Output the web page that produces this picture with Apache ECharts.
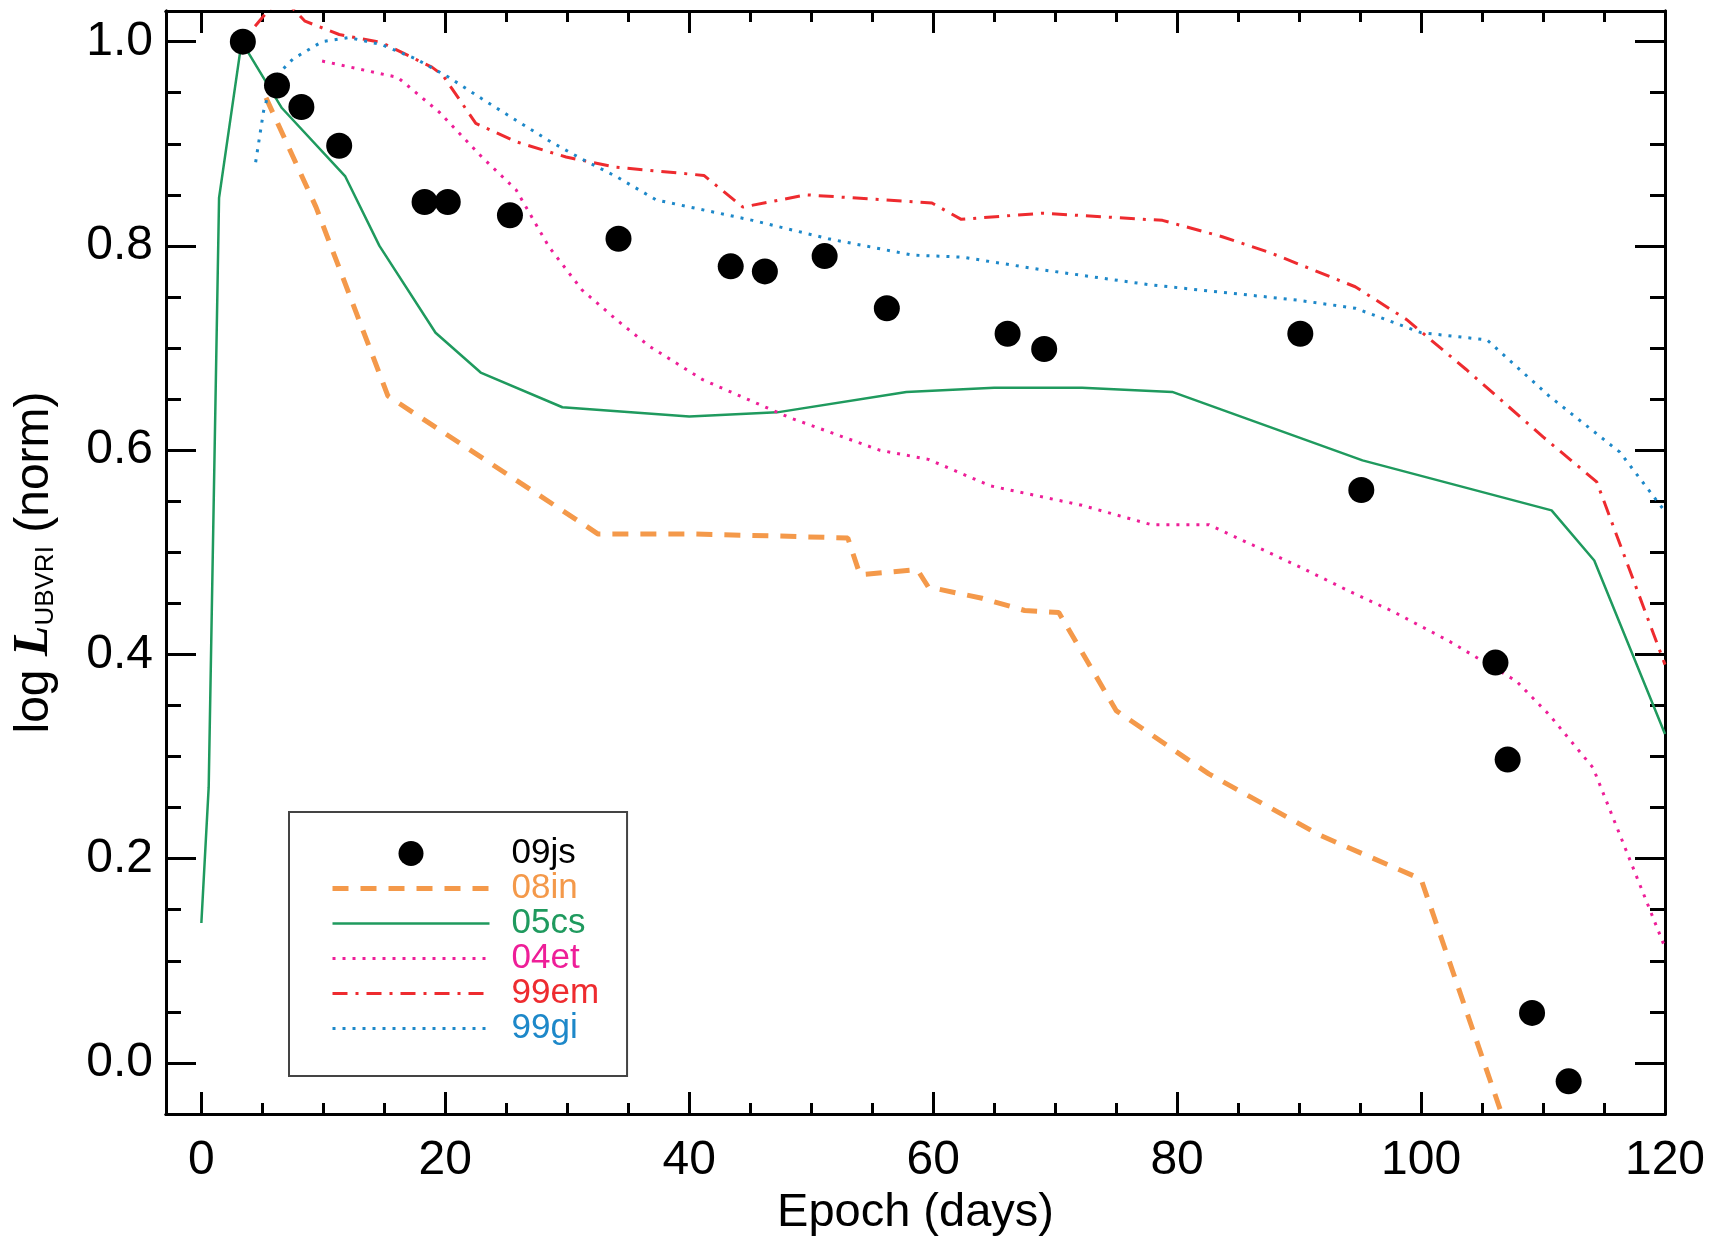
<!DOCTYPE html>
<html>
<head>
<meta charset="utf-8">
<script src="https://cdn.jsdelivr.net/npm/echarts@6/dist/echarts.min.js"></script>
<style>
  html, body { margin: 0; padding: 0; background: #ffffff; }
  #chart { width: 1725px; height: 1242px; }
</style>
</head>
<body>
<div id="chart"></div>
<script>
// SN 2009js bolometric (UBVRI) light curve and comparison supernovae
const days09js = [3.4, 6.2, 8.2, 11.3, 18.3, 20.2, 25.3, 34.2, 43.4, 46.2, 51.1, 56.2, 66.1, 69.1, 90.1, 95.1, 106.1, 107.1, 109.1, 112.1];
const logL09js = [1.000, 0.957, 0.936, 0.898, 0.843, 0.843, 0.830, 0.807, 0.780, 0.775, 0.790, 0.739, 0.714, 0.699, 0.714, 0.561, 0.392, 0.297, 0.049, -0.018];

const days08in = [5.3, 9.4, 15.3, 31.5, 32.5, 40.0, 47.0, 53.0, 54.0, 58.7, 59.6, 64.0, 67.5, 70.3, 75.0, 82.6, 91.7, 100.0, 106.9];
const logL08in = [0.945, 0.838, 0.653, 0.526, 0.518, 0.518, 0.516, 0.514, 0.478, 0.483, 0.466, 0.455, 0.443, 0.441, 0.345, 0.283, 0.223, 0.180, -0.060];

const days05cs = [0.0, 0.6, 1.45, 3.3, 6.6, 11.8, 14.6, 19.2, 22.9, 29.6, 40.0, 47.2, 57.8, 65.0, 72.2, 79.6, 95.2, 110.7, 114.2, 120.0];
const logL05cs = [0.137, 0.270, 0.847, 1.000, 0.935, 0.868, 0.800, 0.715, 0.676, 0.642, 0.633, 0.637, 0.657, 0.661, 0.661, 0.657, 0.590, 0.541, 0.492, 0.322];

const days04et = [9.9, 16.1, 19.5, 23.0, 25.8, 28.5, 31.2, 34.0, 36.7, 41.1, 48.2, 55.6, 59.6, 64.7, 72.2, 77.9, 82.6, 90.0, 94.1, 97.7, 102.3, 107.8, 110.5, 114.1, 120.0];
const logL04et = [0.981, 0.965, 0.931, 0.887, 0.855, 0.799, 0.757, 0.728, 0.702, 0.669, 0.632, 0.600, 0.591, 0.565, 0.546, 0.527, 0.527, 0.486, 0.462, 0.442, 0.413, 0.374, 0.341, 0.289, 0.113];

const days99em = [4.4, 6.5, 8.5, 11.3, 14.8, 18.9, 19.8, 22.5, 25.8, 29.9, 34.0, 41.2, 44.4, 49.6, 59.9, 62.3, 68.9, 78.8, 83.7, 87.7, 94.6, 98.8, 103.7, 110.0, 114.4, 120.0];
const logL99em = [1.015, 1.045, 1.020, 1.007, 0.999, 0.975, 0.967, 0.920, 0.902, 0.887, 0.877, 0.869, 0.838, 0.850, 0.842, 0.826, 0.832, 0.825, 0.809, 0.793, 0.760, 0.728, 0.679, 0.613, 0.569, 0.390];

const days99gi = [4.45, 5.1, 5.8, 7.5, 9.9, 12.1, 14.8, 17.6, 20.3, 23.0, 25.8, 28.5, 31.2, 34.0, 37.3, 45.2, 51.4, 58.3, 62.4, 68.7, 77.7, 89.8, 94.6, 100.0, 105.4, 110.5, 116.3, 120.0];
const logL99gi = [0.882, 0.932, 0.962, 0.983, 1.000, 1.004, 0.997, 0.983, 0.965, 0.944, 0.923, 0.903, 0.885, 0.868, 0.845, 0.825, 0.807, 0.791, 0.789, 0.777, 0.762, 0.747, 0.739, 0.715, 0.708, 0.653, 0.598, 0.540];

// Axis ticks
const xMajorTicks = [0, 20, 40, 60, 80, 100, 120];
const xMinorTicks = [5, 10, 15, 25, 30, 35, 45, 50, 55, 65, 70, 75, 85, 90, 95, 105, 110, 115];
const yMajorTicks = [0.0, 0.2, 0.4, 0.6, 0.8, 1.0];
const yMinorTicks = [0.05, 0.10, 0.15, 0.25, 0.30, 0.35, 0.45, 0.50, 0.55, 0.65, 0.70, 0.75, 0.85, 0.90, 0.95];

const seriesNames = ['09js', '08in', '05cs', '04et', '99em', '99gi'];
const seriesColors = ['#000000', '#F4994A', '#1F9A5E', '#EE1E98', '#EE2B2F', '#1D88C9'];
const seriesWidths = [0, 5, 2.5, 3, 3, 3];
const seriesDashes = [null, [16, 12], 'solid', [3, 7], [15, 8, 3, 8], [3, 7]];

const X_MIN = -2.9, X_MAX = 120;
const Y_MIN = -0.05, Y_MAX = 1.03;
const FONT = "'Liberation Sans', Arial, Helvetica, sans-serif";

const zip = (xs, ys) => xs.map((x, i) => [x, ys[i]]);

function xAxisDef(position, ticks, tickLen, withLabels) {
  return {
    type: 'value', position, min: X_MIN, max: X_MAX,
    axisLine: { show: true, onZero: false, lineStyle: { color: '#000', width: 3 } },
    axisTick: { show: true, inside: true, length: tickLen, customValues: ticks, lineStyle: { color: '#000', width: 3 } },
    axisLabel: withLabels
      ? { show: true, customValues: ticks, fontSize: 48, fontFamily: FONT, color: '#000', margin: 23 }
      : { show: false },
    splitLine: { show: false }
  };
}

function yAxisDef(position, ticks, tickLen, withLabels) {
  return {
    type: 'value', position, min: Y_MIN, max: Y_MAX,
    axisLine: { show: true, onZero: false, lineStyle: { color: '#000', width: 3 } },
    axisTick: { show: true, inside: true, length: tickLen, customValues: ticks, lineStyle: { color: '#000', width: 3 } },
    axisLabel: withLabels
      ? { show: true, customValues: ticks, fontSize: 48, fontFamily: FONT, color: '#000', margin: 13,
          formatter: v => v.toFixed(1) }
      : { show: false },
    splitLine: { show: false }
  };
}

const xAxes = [
  xAxisDef('bottom', xMajorTicks, 22, true),
  xAxisDef('bottom', xMinorTicks, 11, false),
  xAxisDef('top', xMajorTicks, 22, false),
  xAxisDef('top', xMinorTicks, 11, false)
];
Object.assign(xAxes[0], {
  name: 'Epoch (days)', nameLocation: 'middle', nameGap: 76,
  nameTextStyle: { fontSize: 47, fontFamily: FONT, color: '#000' }
});

const yAxes = [
  yAxisDef('left', yMajorTicks, 30, true),
  yAxisDef('left', yMinorTicks, 15, false),
  yAxisDef('right', yMajorTicks, 30, false),
  yAxisDef('right', yMinorTicks, 15, false)
];
Object.assign(yAxes[0], {
  name: '{n|log }{L|L}{s|UBVRI}{n| (norm)}',
  nameLocation: 'middle', nameGap: 107, nameRotate: 90,
  nameTextStyle: {
    color: '#000',
    rich: {
      n: { fontSize: 48, fontFamily: FONT, color: '#000', verticalAlign: 'bottom' },
      L: { fontSize: 50, fontFamily: "'Liberation Serif', 'Times New Roman', serif", fontStyle: 'italic', fontWeight: 'bold', color: '#000', verticalAlign: 'bottom' },
      s: { fontSize: 26, fontFamily: FONT, color: '#000', verticalAlign: 'bottom' }
    }
  }
});

function lineSeries(idx, xs, ys) {
  const color = seriesColors[idx];
  return {
    name: seriesNames[idx], type: 'line', data: zip(xs, ys),
    xAxisIndex: 0, yAxisIndex: 0,
    symbol: 'none', clip: true, smooth: false,
    lineStyle: { color, width: seriesWidths[idx], type: seriesDashes[idx], cap: 'butt' },
    itemStyle: { color },
    z: 2
  };
}

// Legend entries: lines carry their own dash pattern, the marker entry keeps its dot
const legendData = seriesNames.map((n, i) => {
  const item = { name: n, textStyle: { color: seriesColors[i] } };
  if (i > 0) {
    item.itemStyle = { opacity: 0 };
    item.lineStyle = { color: seriesColors[i], width: seriesWidths[i], type: seriesDashes[i], opacity: 1 };
  }
  return item;
});

const option = {
  backgroundColor: '#ffffff',
  animation: false,
  grid: { left: 166, right: 60, top: 11, bottom: 123, containLabel: false },
  xAxis: xAxes,
  yAxis: yAxes,
  legend: {
    orient: 'vertical', left: 289, top: 812,
    padding: [24, 28, 30, 41],
    itemWidth: 157, itemHeight: 25, itemGap: 0,
    borderColor: '#444', borderWidth: 2, backgroundColor: '#fff',
    textStyle: { fontSize: 35, fontFamily: FONT, padding: [0, 0, 0, 17] },
    data: legendData
  },
  series: [
    lineSeries(1, days08in, logL08in),
    lineSeries(2, days05cs, logL05cs),
    lineSeries(3, days04et, logL04et),
    lineSeries(4, days99em, logL99em),
    lineSeries(5, days99gi, logL99gi),
    {
      name: '09js', type: 'scatter', data: zip(days09js, logL09js),
      xAxisIndex: 0, yAxisIndex: 0,
      symbol: 'circle', symbolSize: 26,
      itemStyle: { color: '#000', opacity: 1 }, z: 5
    }
  ]
};

const chart = echarts.init(document.getElementById('chart'), null, { renderer: 'canvas' });
chart.setOption(option);
</script>
</body>
</html>
